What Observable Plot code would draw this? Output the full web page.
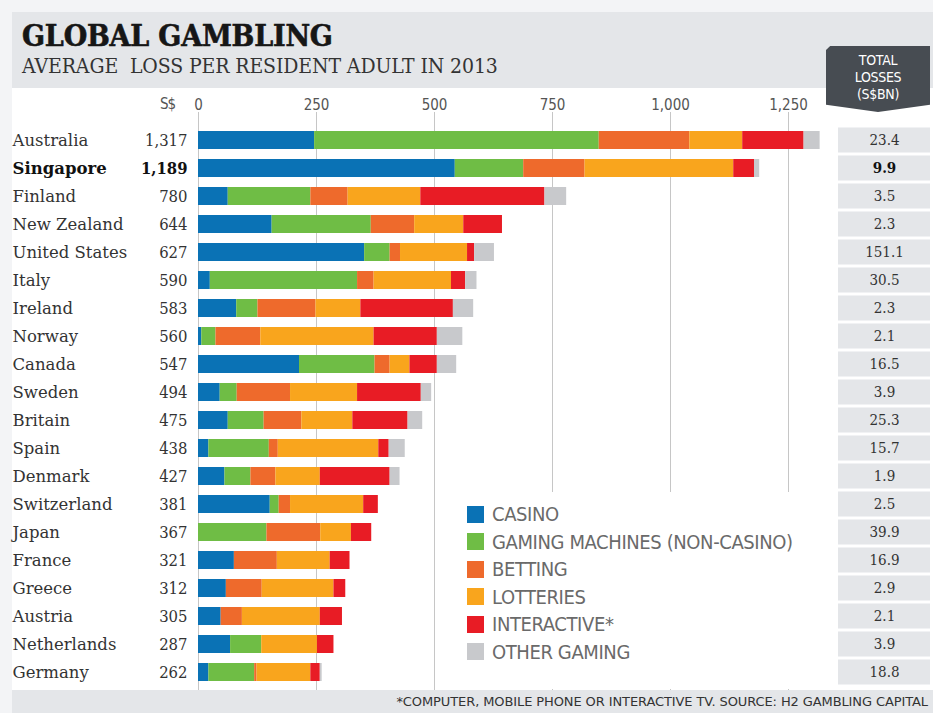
<!DOCTYPE html>
<html>
<head>
<meta charset="utf-8">
<script src="https://cdn.jsdelivr.net/npm/d3@7"></script>
<script src="https://cdn.jsdelivr.net/npm/@observablehq/plot@0.6"></script>
<style>
  html, body { margin: 0; padding: 0; }
  body { width: 933px; height: 713px; overflow: hidden; background: #f3f4f6; position: relative; }
  .abs { position: absolute; }
  #panel { left: 12px; top: 12px; width: 921px; height: 701px; background: #fff; }
  #header { left: 12px; top: 12px; width: 921px; height: 76px; background: #e4e6e9; }
  #title { left: 22px; top: 21px; font-family: "DejaVu Serif Condensed", "DejaVu Serif", serif; font-stretch: condensed; font-weight: bold; font-size: 30px; line-height: 30px; letter-spacing: -0.2px; color: #161616; white-space: nowrap; -webkit-text-stroke: 0.6px #161616; }
  #subtitle { left: 22px; top: 56px; font-family: "DejaVu Serif Condensed", "DejaVu Serif", serif; font-stretch: condensed; font-size: 21px; line-height: 21px; letter-spacing: -0.1px; color: #333; white-space: nowrap; }
  #tag { left: 826px; top: 46px; width: 104px; height: 66px; background: #474c52; color: #fff; text-align: center;
         clip-path: polygon(4% 0, 100% 0, 100% 89%, 50% 100%, 0 89%, 0 6%);
         font-family: "DejaVu Sans Condensed", "DejaVu Sans", sans-serif; font-stretch: condensed; font-size: 14px; line-height: 17px; padding-top: 6px; box-sizing: border-box; letter-spacing: -0.3px; }
  #sd { left: 160px; top: 95px; font-family: "DejaVu Sans Condensed", "DejaVu Sans", sans-serif; font-stretch: condensed; font-size: 15px; color: #555; letter-spacing: -1px; }
  #legendbox { left: 445px; top: 492px; width: 385px; height: 197px; background: #fff; }
  .lg { font-family: "DejaVu Sans Condensed", "DejaVu Sans", sans-serif; font-stretch: condensed; font-size: 20px; color: #6a6a6a; letter-spacing: -0.4px; white-space: nowrap; line-height: 20px; }
  .sw { width: 17px; height: 17px; }
  #footer { left: 12px; top: 690px; width: 921px; height: 23px; background: #e4e6e9; text-align: right; box-sizing: border-box; padding-right: 5px;
            font-family: "DejaVu Sans", sans-serif; font-size: 13px; line-height: 24px; color: #333; letter-spacing: -0.1px; white-space: nowrap; }
  #main { left: 0; top: 80px; }
  #totals { left: 836px; top: 80px; }
</style>
</head>
<body>
<div id="panel" class="abs"></div>
<div id="header" class="abs"></div>
<div id="title" class="abs">GLOBAL GAMBLING</div>
<div id="subtitle" class="abs">AVERAGE&nbsp; LOSS PER RESIDENT ADULT IN 2013</div>
<div id="main" class="abs"></div>
<div id="totals" class="abs"></div>
<div id="legendbox" class="abs"></div>
<div id="legend"></div>
<div id="sd" class="abs">S$</div>
<div id="tag" class="abs">TOTAL<br>LOSSES<br>(S$BN)</div>
<div id="footer" class="abs">*COMPUTER, MOBILE PHONE OR INTERACTIVE TV. SOURCE: H2 GAMBLING CAPITAL</div>
<script>
// ---- Data (S$ per resident adult, 2013) ----
const countries = ["Australia","Singapore","Finland","New Zealand","United States","Italy","Ireland","Norway","Canada","Sweden",
  "Britain","Spain","Denmark","Switzerland","Japan","France","Greece","Austria","Netherlands","Germany"];
const totals = [1317,1189,780,644,627,590,583,560,547,494,475,438,427,381,367,321,312,305,287,262];
const totalLosses = [23.4,9.9,3.5,2.3,151.1,30.5,2.3,2.1,16.5,3.9,25.3,15.7,1.9,2.5,39.9,16.9,2.9,2.1,3.9,18.8];

const categories = ["CASINO","GAMING MACHINES (NON-CASINO)","BETTING","LOTTERIES","INTERACTIVE*","OTHER GAMING"];
const colors = ["#0a72b5","#6fbd45","#ee6a2c","#f9a51d","#e81c25","#c8c9cc"];

const casino      = [246,544, 63,156,352, 25, 81,  7,214, 46, 63, 22, 56,152,  0, 76, 59, 48, 68, 22];
const machines    = [603,145,175,210, 54,312, 45, 30,160, 36, 76,128, 55, 19,145,  0,  0,  0, 66, 97];
const betting     = [192,130, 79, 92, 22, 35,123, 95, 32,113, 80, 19, 53, 24,114, 91, 76, 45,  0,  5];
const lotteries   = [112,315,154,104,142,164, 95,240, 42,142,108,213, 94,155, 65,112,152,165,118,114];
const interactive = [130, 44,263, 82, 15, 30,196,134, 58,135,117, 22,148, 31, 43, 42, 25, 47, 35, 20];
const other       = [ 34, 11, 46,  0, 42, 24, 43, 54, 41, 22, 31, 34, 21,  0,  0,  0,  0,  0,  0,  4];

const xTicks = [0,250,500,750,1000,1250];
const highlight = "Singapore";

// ---- Build tables ----
const series = [casino, machines, betting, lotteries, interactive, other];
const long = [];
countries.forEach((c, i) => categories.forEach((cat, j) => long.push({country: c, category: cat, value: series[j][i]})));
const rows = countries.map((c, i) => ({country: c, total: totals[i], loss: totalLosses[i]}));

const serif = "'DejaVu Serif', serif";
const serifC = "'DejaVu Serif Condensed', 'DejaVu Serif', serif";
const sans = "'DejaVu Sans Condensed', 'DejaVu Sans', sans-serif";
const H = 620, MT = 39, MB = 7, PAD = 0.36;

const main = Plot.plot({
  width: 933, height: H,
  marginLeft: 198, marginRight: 145, marginTop: MT, marginBottom: MB,
  style: {fontFamily: sans, fontSize: "15px", background: "transparent", overflow: "visible"},
  x: {domain: [0, 1250]},
  y: {domain: countries, padding: PAD, axis: null},
  color: {domain: categories, range: colors},
  marks: [
    Plot.gridX(xTicks, {stroke: "#c6c6c6", strokeOpacity: 1}),
    Plot.axisX(xTicks, {anchor: "top", tickSize: 8, tickPadding: 2, stroke: "#c6c6c6", fill: "#555",
      tickFormat: d3.format(","), fontSize: 15, label: null}),
    Plot.barX(long, Plot.stackX({x: "value", y: "country", fill: "category"})),
    Plot.text(rows.filter(d => d.country !== highlight), {y: "country", text: "country", frameAnchor: "left", dx: -186, textAnchor: "start", fontFamily: serif, fontSize: 16.5, fill: "#333", letterSpacing: "-0.3px"}),
    Plot.text(rows.filter(d => d.country === highlight), {y: "country", text: "country", frameAnchor: "left", dx: -186, textAnchor: "start", fontFamily: serif, fontSize: 16.5, fontWeight: "bold", fill: "#111", letterSpacing: "-0.6px"}),
    Plot.text(rows.filter(d => d.country !== highlight), {y: "country", text: d => d3.format(",")(d.total), frameAnchor: "left", dx: -11, textAnchor: "end", fontFamily: serifC, fontSize: 16.5, fill: "#333", letterSpacing: "-0.4px"}),
    Plot.text(rows.filter(d => d.country === highlight), {y: "country", text: d => d3.format(",")(d.total), frameAnchor: "left", dx: -11, textAnchor: "end", fontFamily: serifC, fontSize: 16.5, fontWeight: "bold", fill: "#111", letterSpacing: "-0.6px"})
  ]
});
document.getElementById("main").appendChild(main);

const tot = Plot.plot({
  width: 97, height: H,
  marginLeft: 2, marginRight: 3, marginTop: MT, marginBottom: MB,
  style: {fontFamily: serifC, fontSize: "15px", background: "transparent"},
  y: {domain: countries, padding: PAD, axis: null},
  marks: [
    Plot.cell(rows, {y: "country", fill: "#e4e6e9", insetTop: -3.5, insetBottom: -3.5}),
    Plot.text(rows.filter(d => d.country !== highlight), {y: "country", text: d => d.loss.toFixed(1), frameAnchor: "middle", fontSize: 15, fill: "#333", letterSpacing: "-0.5px"}),
    Plot.text(rows.filter(d => d.country === highlight), {y: "country", text: d => d.loss.toFixed(1), frameAnchor: "middle", fontSize: 15, fontWeight: "bold", fill: "#111"})
  ]
});
document.getElementById("totals").appendChild(tot);

// ---- Legend ----
const lg = document.getElementById("legend");
categories.forEach((cat, i) => {
  const cy = 514 + i * 27.5;
  const sw = document.createElement("div");
  sw.className = "abs sw";
  sw.style.left = "467px"; sw.style.top = (cy - 8.5) + "px"; sw.style.background = colors[i];
  lg.appendChild(sw);
  const t = document.createElement("div");
  t.className = "abs lg";
  t.style.left = "492px"; t.style.top = (cy - 10) + "px";
  t.textContent = cat;
  lg.appendChild(t);
});
</script>
</body>
</html>
